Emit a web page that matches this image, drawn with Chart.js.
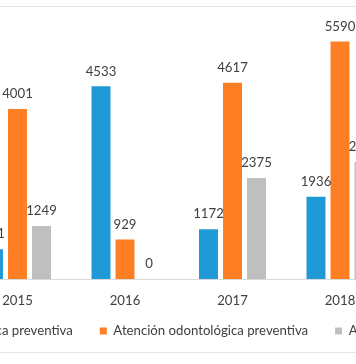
<!DOCTYPE html>
<html>
<head>
<meta charset="utf-8">
<script src="https://cdn.jsdelivr.net/npm/chart.js@4.4.1/dist/chart.umd.min.js"></script>
<style>
  html, body { margin: 0; padding: 0; background: #ffffff; }
  #frame { position: relative; width: 356px; height: 364px; overflow: hidden; background: #fff; }
  #topline { position: absolute; left: 0; top: 6px; width: 356px; height: 1px; background: #e6e6e6; }
  #botline { position: absolute; left: 0; top: 352px; width: 356px; height: 1px; background: #e6e6e6; }
  #wrap { position: absolute; left: -185px; top: 0px; }
</style>
</head>
<body>
<div id="frame">
  <div id="topline"></div>
  <div id="botline"></div>
  <div id="wrap"><canvas id="c" width="800" height="364"></canvas></div>
</div>
<script>
const categories = ['2015', '2016', '2017', '2018'];
const seriesNames = ['Atención médica preventiva', 'Atención odontológica preventiva', 'Atención psicológica preventiva'];
const medica = [701, 4533, 1172, 1936];
const odontologica = [4001, 929, 4617, 5590];
const psicologica = [1249, 0, 2375, 2753];
const colors = ['#1f9ad6', '#fd7e23', '#bfbfbf'];

const FONT = 'Lato';
const FS = 13.2;

const valueLabels = {
  id: 'valueLabels',
  afterDatasetsDraw(chart) {
    const ctx = chart.ctx;
    ctx.save();
    ctx.font = FS + 'px ' + FONT;
    ctx.fillStyle = '#404040';
    ctx.textAlign = 'center';
    ctx.textBaseline = 'middle';
    chart.data.datasets.forEach((ds, i) => {
      chart.getDatasetMeta(i).data.forEach((bar, j) => {
        ctx.fillText(String(ds.data[j]), bar.x, bar.y - 15);
      });
    });
    ctx.restore();
  }
};

// move the legend row up a little, closer to the axis labels
const legendShift = {
  id: 'legendShift',
  afterLayout(chart) {
    const l = chart.legend;
    if (l) { l.top -= 9.6; l.bottom -= 9.6; }
  }
};

new Chart(document.getElementById('c'), {
  type: 'bar',
  data: {
    labels: categories,
    datasets: [
      { label: seriesNames[0], data: medica, backgroundColor: colors[0] },
      { label: seriesNames[1], data: odontologica, backgroundColor: colors[1] },
      { label: seriesNames[2], data: psicologica, backgroundColor: colors[2] }
    ]
  },
  options: {
    responsive: false,
    animation: false,
    devicePixelRatio: 1,
    categoryPercentage: 0.67,
    barPercentage: 0.79,
    layout: { padding: { top: 24, left: 0, right: 0, bottom: 6.8 } },
    plugins: {
      tooltip: { enabled: false },
      legend: {
        position: 'bottom',
        labels: {
          font: { family: FONT, size: FS },
          color: '#404040',
          boxWidth: 7,
          boxHeight: 7,
          padding: 27
        }
      }
    },
    scales: {
      x: {
        grid: { display: false },
        border: { display: true, color: '#d9d9d9', width: 1 },
        ticks: { font: { family: FONT, size: FS }, color: '#404040', padding: 6 },
        afterFit(s) { s.height = 28; }
      },
      y: {
        display: true, min: 0, max: 6000,
        ticks: { display: false }, grid: { display: false }, border: { display: false },
        afterFit(s) { s.width = 148.75; }
      },
      y2: {
        display: true, position: 'right', min: 0, max: 1,
        ticks: { display: false }, grid: { display: false }, border: { display: false },
        afterFit(s) { s.width = 221.25; }
      }
    }
  },
  plugins: [valueLabels, legendShift]
});
</script>
</body>
</html>
